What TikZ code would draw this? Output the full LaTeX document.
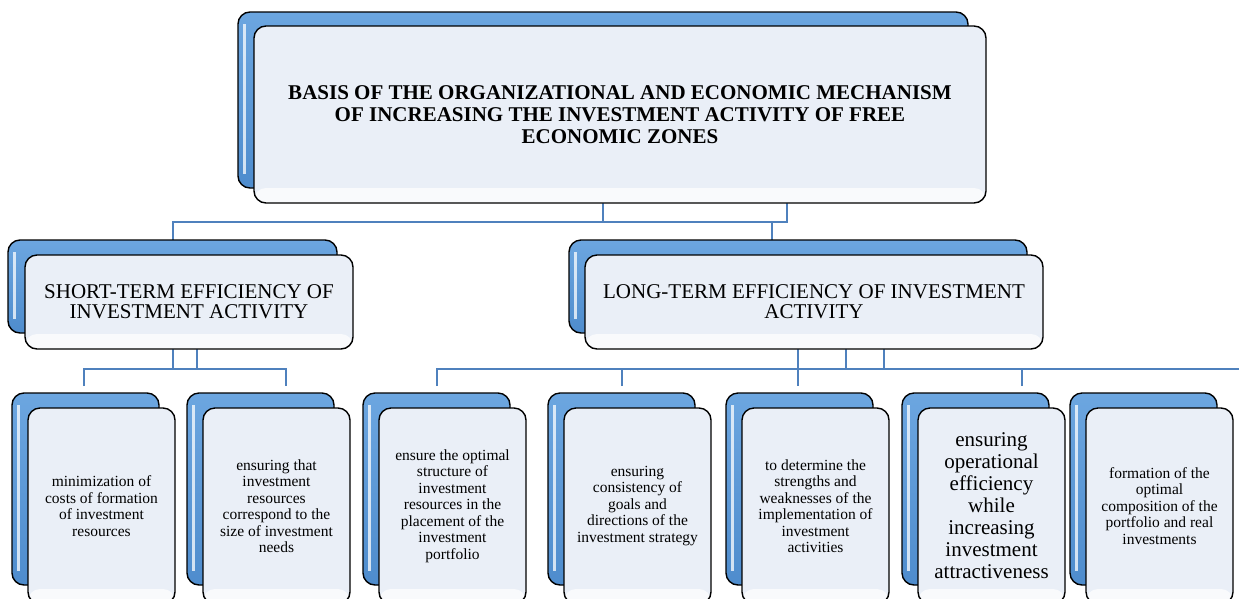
\documentclass[tikz,border=0pt]{standalone}
\usepackage{fontspec}
\setmainfont{Liberation Serif}
\usetikzlibrary{positioning,calc}
\definecolor{boxblue}{RGB}{78,140,205}
\definecolor{boxtop}{RGB}{108,166,224}
\definecolor{paper}{RGB}{234,239,247}
\definecolor{linkblue}{RGB}{79,129,189}
\newcommand\boxfont{\fontsize{15.5}{16.5}\selectfont}
\newcommand\bigfont{\fontsize{21}{22}\selectfont}

\begin{document}
\begin{tikzpicture}[x=1pt,y=-1pt,
  back/.style={draw=black,line width=1.4pt,rounded corners=12pt,top color=boxtop,bottom color=boxblue,inner sep=0pt,
    path picture={\draw[white,opacity=0.75,line width=3pt] ([xshift=6pt,yshift=-12pt]path picture bounding box.north west) -- ([xshift=6pt,yshift=14pt]path picture bounding box.south west);}},
  front/.style={draw=black,line width=1.4pt,rounded corners=12pt,fill=paper,align=center,inner sep=0pt,
    path picture={\fill[white,opacity=0.75] ([yshift=15pt]path picture bounding box.south west) rectangle (path picture bounding box.south east);}},
  link/.style={draw=linkblue,line width=2pt}]
\useasboundingbox (0,0) rectangle (1239,598);
\clip (0,0) rectangle (1239,598);
% junction levels and free ends of the connectors
\coordinate (jtop) at (0,222);
\coordinate (jlow) at (0,369);
\coordinate (ltin) at (772,240);
\coordinate (tsec) at (787,150);
\coordinate (stsec) at (197,320);
\coordinate (ltsec1) at (846,320);
\coordinate (ltsec2) at (884,320);
\coordinate (dend) at (1239,369);
\foreach \d/\x in {d1/84,d2/286,d3/437,d4/622,d5/798,d6/1022} \coordinate (\d) at (\x,386);
% boxes sit on these positions
\coordinate (ptop) at (603,100);
\coordinate (pst) at (172.5,286.5);
\coordinate (plt) at (798,286.5);
\draw[link] (ptop) -- (ptop |- jtop) -| (pst);
\draw[link] (ptop |- jtop) -| (ltin);
\draw[link] (tsec) |- (ptop |- jtop);
\draw[link] (pst) -- (pst |- jlow);
\draw[link] (stsec) -- (stsec |- jlow);
\draw[link] (d1) -- (d1 |- jlow) -- (d2 |- jlow) -- (d2);
\draw[link] (plt) -- (d5);
\draw[link] (d3) -- (d3 |- jlow) -- (dend);
\foreach \d in {d4,d6,ltsec1,ltsec2} \draw[link] (\d) -- (\d |- jlow);

\node[back,minimum width=730,minimum height=176] (topback) at (ptop) {};
\node[front,minimum width=732,minimum height=177,font=\bfseries\bigfont] (topfront) at (620,114.5)
  {BASIS OF THE ORGANIZATIONAL AND ECONOMIC MECHANISM\\OF INCREASING THE INVESTMENT ACTIVITY OF FREE\\ECONOMIC ZONES};
\node[back,minimum width=329,minimum height=93] (stback) at (pst) {};
\node[front,minimum width=328,minimum height=94,font=\fontsize{21}{20}\selectfont] (stfront) at (189,302)
  {SHORT-TERM EFFICIENCY OF\\INVESTMENT ACTIVITY};
\node[back,minimum width=458,minimum height=93] (ltback) at (plt) {};
\node[front,minimum width=458,minimum height=94,font=\fontsize{21}{20}\selectfont] (ltfront) at (814,302)
  {LONG-TERM EFFICIENCY OF INVESTMENT\\ACTIVITY};

\foreach \i/\x/\fnt/\txt in {
  1/12/\boxfont/{minimization of\\costs of formation\\of investment\\resources},
  2/187/\boxfont/{ensuring that\\investment\\resources\\correspond to the\\size of investment\\needs},
  3/363/\boxfont/{ensure the optimal\\structure of\\investment\\resources in the\\placement of the\\investment\\portfolio},
  4/548/\boxfont/{ensuring\\consistency of\\goals and\\directions of the\\investment strategy},
  5/726/\boxfont/{to determine the\\strengths and\\weaknesses of the\\implementation of\\investment\\activities},
  6/902/\bigfont/{ensuring\\operational\\efficiency\\while\\increasing\\investment\\attractiveness},
  7/1070/\boxfont/{formation of the\\optimal\\composition of the\\portfolio and real\\investments}}{
  \node[back,minimum width=147,minimum height=192] (bb\i) at (\x+73.5,489) {};
  \node[front,minimum width=147,minimum height=196,font=\fnt] (bf\i) at (\x+89.5,506) {\txt};}
\end{tikzpicture}
\end{document}
